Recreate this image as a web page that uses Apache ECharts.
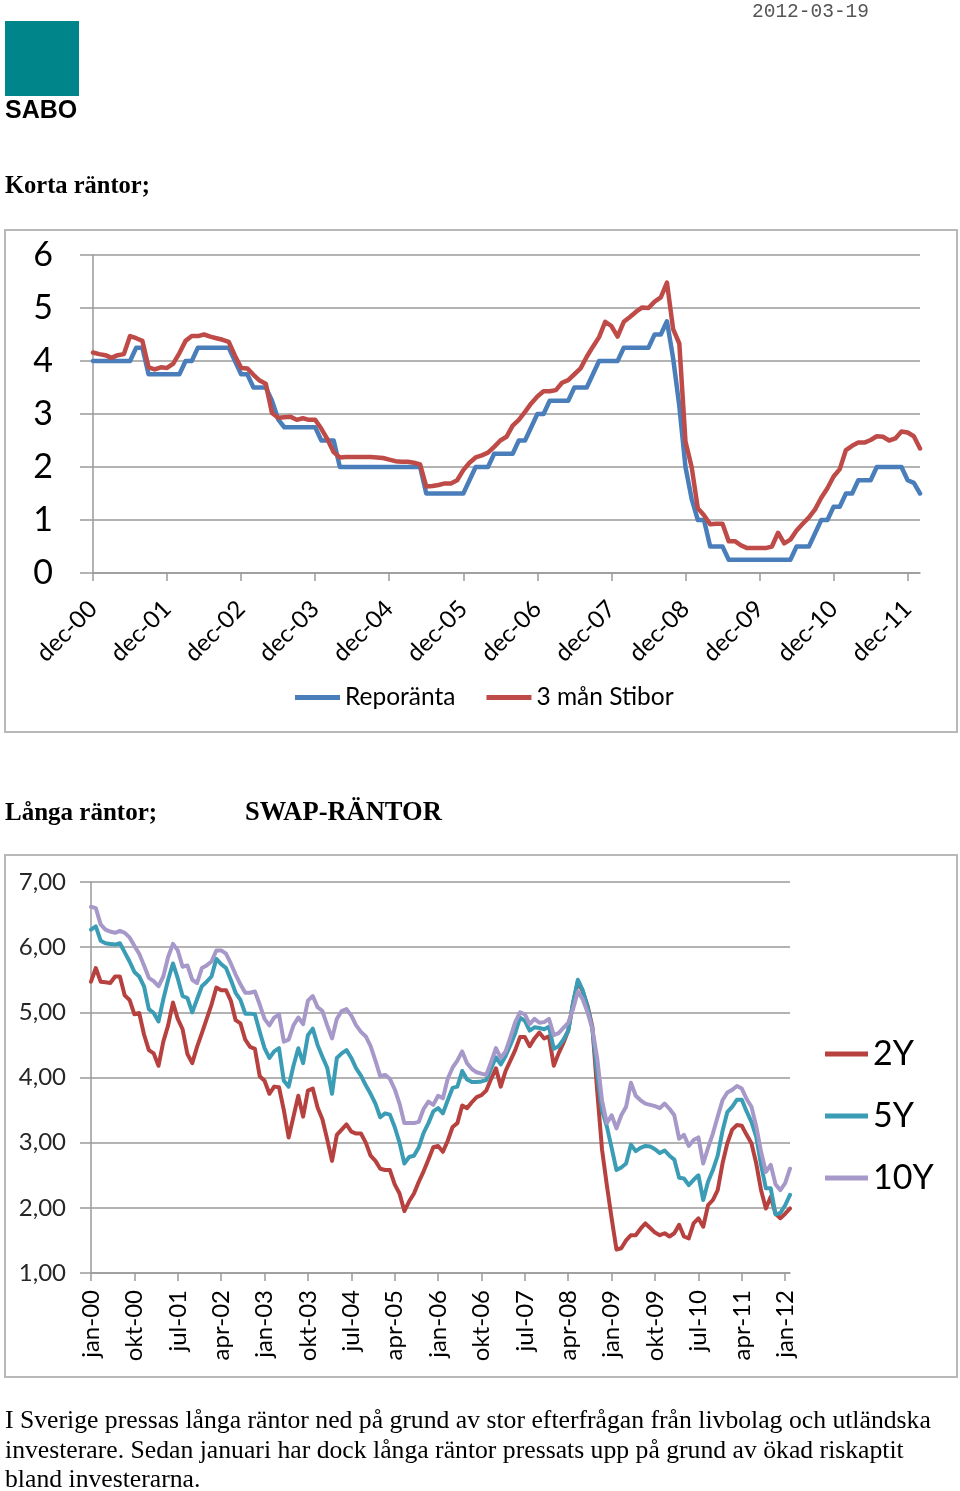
<!DOCTYPE html>
<html><head><meta charset="utf-8">
<script src="https://cdn.jsdelivr.net/npm/echarts@6/dist/echarts.min.js"></script>
<style>
html,body{margin:0;padding:0;background:#fff;}
body{width:960px;height:1491px;position:relative;overflow:hidden;}
#chart{position:absolute;left:0;top:0;width:960px;height:1491px;}
.t{position:absolute;white-space:nowrap;color:#000;}
</style></head><body>
<div id="chart"></div>
<div class="t" style="left:752px;top:2px;font-family:'Liberation Mono';font-size:19.5px;line-height:20px;color:#555;">2012-03-19</div>
<div style="position:absolute;left:5px;top:21px;width:74px;height:75px;background:#00858a;"></div>
<div class="t" style="left:5px;top:97px;font-family:'Liberation Sans';font-weight:bold;font-size:25px;line-height:25px;">SABO</div>
<div class="t" style="left:5px;top:172px;font-family:'Liberation Serif';font-weight:bold;font-size:24.5px;line-height:25px;">Korta räntor;</div>
<div class="t" style="left:5px;top:799px;font-family:'Liberation Serif';font-weight:bold;font-size:25px;line-height:25px;">Långa räntor;</div>
<div class="t" style="left:245px;top:799px;font-family:'Liberation Serif';font-weight:bold;font-size:26.5px;line-height:25px;">SWAP-RÄNTOR</div>
<div class="t" id="para" style="left:5px;top:1405px;font-family:'Liberation Serif';font-size:25.7px;line-height:29.5px;">I Sverige pressas långa räntor ned på grund av stor efterfrågan från livbolag och utländska<br>investerare. Sedan januari har dock långa räntor pressats upp på grund av ökad riskaptit<br>bland investerarna.</div>
<script>
// ---------- DATA ----------
const monthNames = ['jan','feb','mar','apr','maj','jun','jul','aug','sep','okt','nov','dec'];
function monthLabels(startYear, startMonth, count) {
  const out = [];
  for (let k = 0; k < count; k++) {
    const m = (startMonth + k) % 12;
    const y = startYear + Math.floor((startMonth + k) / 12);
    out.push(monthNames[m] + '-' + String(y % 100).padStart(2, '0'));
  }
  return out;
}
// Chart 1: dec-00 .. feb-12, monthly
const shortCategories = monthLabels(2000, 11, 135);
const repoRate = [
  4.0,4.0,4.0,4.0,4.0,4.0,4.0,4.25,4.25,3.75,
  3.75,3.75,3.75,3.75,3.75,4.0,4.0,4.25,4.25,4.25,
  4.25,4.25,4.25,4.0,3.75,3.75,3.5,3.5,3.5,3.25,
  2.9,2.75,2.75,2.75,2.75,2.75,2.75,2.5,2.5,2.5,
  2.0,2.0,2.0,2.0,2.0,2.0,2.0,2.0,2.0,2.0,
  2.0,2.0,2.0,2.0,1.5,1.5,1.5,1.5,1.5,1.5,
  1.5,1.75,2.0,2.0,2.0,2.25,2.25,2.25,2.25,2.5,
  2.5,2.75,3.0,3.0,3.25,3.25,3.25,3.25,3.5,3.5,
  3.5,3.75,4.0,4.0,4.0,4.0,4.25,4.25,4.25,4.25,
  4.25,4.5,4.5,4.75,4.05,3.15,2.0,1.4,1.0,1.0,
  0.5,0.5,0.5,0.25,0.25,0.25,0.25,0.25,0.25,0.25,
  0.25,0.25,0.25,0.25,0.5,0.5,0.5,0.75,1.0,1.0,
  1.25,1.25,1.5,1.5,1.75,1.75,1.75,2.0,2.0,2.0,
  2.0,2.0,1.75,1.7,1.5
];
const stibor3m = [
  4.16,4.13,4.11,4.06,4.11,4.13,4.47,4.43,4.38,3.88,
  3.84,3.88,3.87,3.95,4.15,4.38,4.47,4.47,4.5,4.46,
  4.43,4.4,4.36,4.1,3.87,3.86,3.74,3.63,3.57,3.02,
  2.93,2.94,2.95,2.89,2.92,2.89,2.89,2.72,2.52,2.28,
  2.18,2.19,2.19,2.19,2.19,2.19,2.18,2.17,2.14,2.11,
  2.1,2.1,2.08,2.05,1.63,1.64,1.66,1.69,1.69,1.75,
  1.94,2.08,2.18,2.22,2.27,2.38,2.5,2.57,2.78,2.89,
  3.04,3.2,3.33,3.43,3.43,3.45,3.59,3.64,3.75,3.86,
  4.08,4.27,4.45,4.74,4.66,4.46,4.74,4.83,4.93,5.01,
  5.0,5.12,5.2,5.48,4.6,4.33,2.48,2.0,1.22,1.09,
  0.92,0.93,0.93,0.6,0.6,0.52,0.47,0.47,0.47,0.47,
  0.5,0.76,0.56,0.63,0.8,0.93,1.05,1.2,1.42,1.6,
  1.82,1.96,2.32,2.4,2.46,2.46,2.51,2.58,2.57,2.5,
  2.54,2.67,2.65,2.58,2.35
];
const shortTicks = [0,1,2,3,4,5,6];

// Chart 2: jan-00 .. feb-12, monthly
const swapCategories = monthLabels(2000, 0, 146);
const swap2Y = [
  5.47,5.68,5.47,5.46,5.45,5.55,5.55,5.26,5.19,4.97,
  4.99,4.66,4.42,4.37,4.18,4.55,4.8,5.15,4.9,4.74,
  4.36,4.22,4.47,4.68,4.9,5.12,5.38,5.34,5.34,5.18,
  4.88,4.83,4.58,4.47,4.44,4.02,3.95,3.75,3.86,3.85,
  3.5,3.08,3.4,3.72,3.4,3.8,3.83,3.54,3.36,3.05,
  2.72,3.12,3.2,3.28,3.17,3.14,3.14,3.0,2.8,2.72,
  2.6,2.58,2.58,2.36,2.22,1.95,2.1,2.22,2.4,2.56,
  2.74,2.93,2.95,2.86,3.03,3.24,3.3,3.57,3.53,3.62,
  3.7,3.73,3.8,3.98,4.14,3.86,4.1,4.26,4.42,4.62,
  4.62,4.48,4.6,4.69,4.6,4.63,4.18,4.37,4.53,4.72,
  5.14,5.47,5.32,5.1,4.78,3.8,2.9,2.35,1.84,1.36,
  1.38,1.5,1.58,1.58,1.68,1.76,1.69,1.62,1.58,1.61,
  1.56,1.61,1.74,1.56,1.53,1.76,1.84,1.71,2.04,2.12,
  2.27,2.68,2.99,3.2,3.27,3.26,3.12,2.99,2.68,2.27,
  1.99,2.17,1.91,1.84,1.91,1.99
];
const swap5Y = [
  6.27,6.32,6.1,6.06,6.05,6.04,6.06,5.92,5.78,5.62,
  5.55,5.4,5.05,4.99,4.86,5.2,5.5,5.75,5.52,5.25,
  5.22,5.0,5.2,5.4,5.47,5.55,5.82,5.74,5.68,5.5,
  5.3,5.19,4.98,4.98,4.97,4.7,4.45,4.3,4.4,4.45,
  3.95,3.86,4.18,4.45,4.22,4.65,4.75,4.5,4.32,4.15,
  3.75,4.3,4.37,4.42,4.3,4.14,4.03,3.88,3.75,3.6,
  3.39,3.45,3.43,3.24,3.0,2.68,2.78,2.8,2.93,3.15,
  3.3,3.48,3.53,3.45,3.65,3.84,3.86,4.1,3.97,3.93,
  3.93,3.94,3.96,4.14,4.31,4.2,4.33,4.5,4.68,4.92,
  4.87,4.72,4.77,4.76,4.74,4.78,4.44,4.48,4.58,4.72,
  5.15,5.5,5.34,5.08,4.75,4.05,3.5,3.25,2.92,2.58,
  2.62,2.68,2.97,2.87,2.92,2.95,2.94,2.9,2.84,2.88,
  2.8,2.74,2.46,2.45,2.35,2.43,2.5,2.12,2.4,2.58,
  2.8,3.18,3.47,3.55,3.66,3.66,3.48,3.32,3.09,2.66,
  2.3,2.3,1.9,1.92,2.04,2.2
];
const swap10Y = [
  6.62,6.6,6.35,6.27,6.24,6.22,6.25,6.22,6.15,6.02,
  5.9,5.72,5.53,5.48,5.4,5.55,5.85,6.05,5.95,5.7,
  5.72,5.5,5.45,5.68,5.72,5.78,5.95,5.95,5.9,5.75,
  5.58,5.43,5.3,5.3,5.32,5.12,4.9,4.8,4.92,4.97,
  4.55,4.58,4.8,4.92,4.82,5.18,5.25,5.08,5.02,4.8,
  4.6,4.9,5.02,5.05,4.95,4.8,4.7,4.63,4.48,4.26,
  4.02,4.04,3.98,3.82,3.6,3.3,3.3,3.3,3.32,3.52,
  3.63,3.58,3.72,3.68,3.98,4.15,4.26,4.4,4.22,4.13,
  4.08,4.06,4.04,4.24,4.45,4.3,4.4,4.62,4.85,5.0,
  4.97,4.82,4.9,4.84,4.85,4.9,4.65,4.68,4.76,4.84,
  5.05,5.32,5.2,5.0,4.75,4.3,3.65,3.3,3.42,3.22,
  3.42,3.55,3.92,3.72,3.65,3.6,3.58,3.56,3.53,3.6,
  3.52,3.42,3.06,3.12,2.95,3.04,3.08,2.68,2.92,3.14,
  3.4,3.65,3.77,3.81,3.87,3.83,3.67,3.55,3.25,2.86,
  2.55,2.66,2.36,2.27,2.38,2.6
];
const swapTicks = [1,2,3,4,5,6,7];

// ---------- CHART ----------
const gridColor = '#9a9a9a';
const chart = echarts.init(document.getElementById('chart'), null, {renderer:'canvas'});
function lineSeries(name, data, color, width, xi) {
  return {name, type:'line', data, xAxisIndex:xi, yAxisIndex:xi, symbol:'none',
    lineStyle:{color, width, cap:'round', join:'round'}, itemStyle:{color}, z:3};
}
chart.setOption({
  animation:false,
  graphic:[
    {type:'rect', shape:{x:5,y:230,width:952,height:502}, style:{fill:'none',stroke:'#b8b8b8',lineWidth:2}},
    {type:'rect', shape:{x:5,y:855,width:952,height:522}, style:{fill:'none',stroke:'#b8b8b8',lineWidth:2}}
  ],
  grid:[
    {left:93, top:255, width:827, height:318},
    {left:91, top:882, width:699, height:391}
  ],
  xAxis:[
    {gridIndex:0, type:'category', data:shortCategories, boundaryGap:false,
      axisLine:{lineStyle:{color:gridColor,width:1.5}},
      axisTick:{interval:11, length:8, lineStyle:{color:gridColor,width:1.5}},
      axisLabel:{interval:11, rotate:45, margin:32, fontSize:24, fontFamily:'Lato', color:'#000'},
      splitLine:{show:false}},
    {gridIndex:1, type:'category', data:swapCategories, boundaryGap:false,
      axisLine:{lineStyle:{color:gridColor,width:1.5}},
      axisTick:{interval:8, length:8, lineStyle:{color:gridColor,width:1.5}},
      axisLabel:{interval:8, rotate:90, margin:17, fontSize:24, fontFamily:'Lato', color:'#000'},
      splitLine:{show:false}}
  ],
  yAxis:[
    {gridIndex:0, type:'value', min:shortTicks[0], max:shortTicks[shortTicks.length-1], interval:1,
      axisLine:{show:true, lineStyle:{color:gridColor,width:1.5}},
      axisTick:{show:true, length:13, lineStyle:{color:gridColor,width:1.5}},
      axisLabel:{margin:40, fontSize:34, fontFamily:'Lato', color:'#000'},
      splitLine:{lineStyle:{color:gridColor,width:1.5}}},
    {gridIndex:1, type:'value', min:swapTicks[0], max:swapTicks[swapTicks.length-1], interval:1,
      axisLine:{show:true, lineStyle:{color:gridColor,width:1.5}},
      axisTick:{show:true, length:11, lineStyle:{color:gridColor,width:1.5}},
      axisLabel:{margin:25, fontSize:24, fontFamily:'Lato', color:'#262626',
        formatter:v=>v.toFixed(2).replace('.',',')},
      splitLine:{lineStyle:{color:gridColor,width:1.5}}}
  ],
  legend:[
    {data:['Reporänta','3 mån Stibor'], left:295, top:685, padding:0, orient:'horizontal', icon:'rect',
      itemWidth:45, itemHeight:5, itemGap:31, selectedMode:false,
      textStyle:{fontSize:24.5, fontFamily:'Lato', color:'#000'}},
    {data:['2Y','5Y','10Y'], left:825, top:1037, padding:0, orient:'vertical', icon:'rect',
      itemWidth:43, itemHeight:5, itemGap:28, selectedMode:false,
      textStyle:{fontSize:34, fontFamily:'Lato', color:'#000'}}
  ],
  series:[
    lineSeries('Reporänta', repoRate, '#4a7ebb', 4.5, 0),
    lineSeries('3 mån Stibor', stibor3m, '#be4b48', 4.5, 0),
    lineSeries('2Y', swap2Y, '#b7413e', 4, 1),
    lineSeries('5Y', swap5Y, '#3b9db5', 4, 1),
    lineSeries('10Y', swap10Y, '#a698c8', 4, 1)
  ]
});
</script>
</body></html>
